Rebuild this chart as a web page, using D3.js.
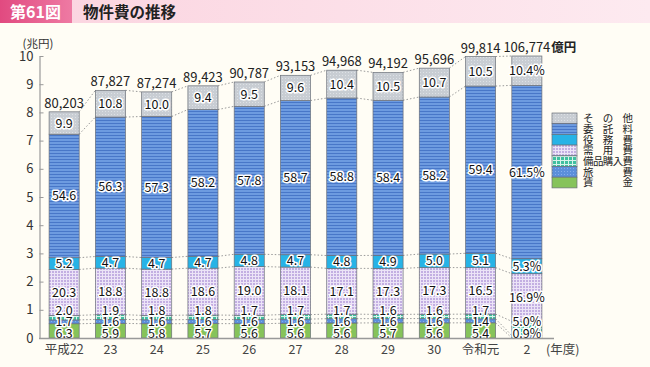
<!DOCTYPE html>
<html>
<head>
<meta charset="utf-8">
<script src="https://cdn.jsdelivr.net/npm/d3@7"></script>
<style>
  body { margin: 0; background: #fffdf5; }
  svg { display: block; font-family: "Noto Sans CJK JP", "Noto Sans", sans-serif; }
</style>
</head>
<body>
<div id="chart"></div>
<script>

// data (shares in %, totals in 億円)
var years = ["平成22", "23", "24", "25", "26", "27", "28", "29", "30", "令和元", "2"];
var totals = [80203, 87827, 87274, 89423, 90787, 93153, 94968, 94192, 95696, 99814, 106774];

var chingin  = [6.3, 5.9, 5.8, 5.7, 5.6, 5.6, 5.6, 5.7, 5.6, 5.4, 0];
var ryohi    = [1.7, 1.6, 1.6, 1.6, 1.6, 1.6, 1.6, 1.6, 1.6, 1.4, 0.9];
var bihin    = [2.0, 1.9, 1.8, 1.8, 1.7, 1.7, 1.7, 1.6, 1.6, 1.7, 5.0];
var juyo     = [20.3, 18.8, 18.8, 18.6, 19.0, 18.1, 17.1, 17.3, 17.3, 16.5, 16.9];
var ekimu    = [5.2, 4.7, 4.7, 4.7, 4.8, 4.7, 4.8, 4.9, 5.0, 5.1, 5.3];
var itaku    = [54.6, 56.3, 57.3, 58.2, 57.8, 58.7, 58.8, 58.4, 58.2, 59.4, 61.5];
var sonota   = [9.9, 10.8, 10.0, 9.4, 9.5, 9.6, 10.4, 10.5, 10.7, 10.5, 10.4];

var seriesNames = ["賃金", "旅費", "備品購入費", "需用費", "役務費", "委託料", "その他"];
var seriesValues = [chingin, ryohi, bihin, juyo, ekimu, itaku, sonota];
var yTicks = [0, 1, 2, 3, 4, 5, 6, 7, 8, 9, 10];
var pctYear = "2"; // last bar shows composition with % labels

//set the stage
var svgWidth = 650;
var svgHeight = 367;

var svg = d3.select("#chart")
  .append("svg")
  .attr("width", svgWidth)
  .attr("height", svgHeight);

svg.append("rect")
  .attr("width", svgWidth).attr("height", svgHeight)
  .attr("fill", "#fffdf5");

// patterns
var defs = svg.append("defs");

var g1 = defs.append("linearGradient").attr("id", "titleGrad");
g1.append("stop").attr("offset", "0%").attr("stop-color", "#fbd3df");
g1.append("stop").attr("offset", "100%").attr("stop-color", "#fdeaf0");

var g2 = defs.append("linearGradient").attr("id", "numGrad");
g2.append("stop").attr("offset", "0%").attr("stop-color", "#e14a80");
g2.append("stop").attr("offset", "100%").attr("stop-color", "#ee7aa3");

// 委託料: horizontal stripes
var pItaku = defs.append("pattern").attr("id", "pItaku")
  .attr("width", 4).attr("height", 3).attr("patternUnits", "userSpaceOnUse");
pItaku.append("rect").attr("width", 4).attr("height", 3).attr("fill", "#6d9be0");
pItaku.append("rect").attr("width", 4).attr("height", 1).attr("fill", "#4877c8");

// 旅費: fine dots
var pRyohi = defs.append("pattern").attr("id", "pRyohi")
  .attr("width", 3).attr("height", 3).attr("patternUnits", "userSpaceOnUse");
pRyohi.append("rect").attr("width", 3).attr("height", 3).attr("fill", "#5b8fdb");
pRyohi.append("rect").attr("width", 1).attr("height", 1).attr("fill", "#86aeea");

// 備品購入費: teal check
var pBihin = defs.append("pattern").attr("id", "pBihin")
  .attr("width", 4).attr("height", 4).attr("patternUnits", "userSpaceOnUse");
pBihin.append("rect").attr("width", 4).attr("height", 4).attr("fill", "#3fbf9f");
pBihin.append("rect").attr("width", 4).attr("height", 1).attr("fill", "#d8f3ea");
pBihin.append("rect").attr("width", 1).attr("height", 4).attr("fill", "#d8f3ea");

// 需用費: lavender check
var pJuyo = defs.append("pattern").attr("id", "pJuyo")
  .attr("width", 3).attr("height", 3).attr("patternUnits", "userSpaceOnUse");
pJuyo.append("rect").attr("width", 3).attr("height", 3).attr("fill", "#c3afe2");
pJuyo.append("rect").attr("width", 3).attr("height", 1).attr("fill", "#ece4f7");
pJuyo.append("rect").attr("width", 1).attr("height", 3).attr("fill", "#ece4f7");

// その他: light gray dots
var pSonota = defs.append("pattern").attr("id", "pSonota")
  .attr("width", 3).attr("height", 3).attr("patternUnits", "userSpaceOnUse");
pSonota.append("rect").attr("width", 3).attr("height", 3).attr("fill", "#c8cdd3");
pSonota.append("rect").attr("width", 1).attr("height", 1).attr("fill", "#dde1e5");

var fills = ["#86c35a", "url(#pRyohi)", "url(#pBihin)", "url(#pJuyo)", "#27b3e6", "url(#pItaku)", "url(#pSonota)"];

// title bar
svg.append("rect").attr("x", 0).attr("y", 0).attr("width", svgWidth).attr("height", 23)
  .attr("fill", "url(#titleGrad)");
svg.append("rect").attr("x", 0).attr("y", 0).attr("width", 72).attr("height", 23)
  .attr("fill", "url(#numGrad)");
svg.append("text").attr("x", 10).attr("y", 18)
  .attr("fill", "#fff").attr("font-size", 16).attr("font-weight", "bold")
  .text("第61図");
svg.append("text").attr("x", 83).attr("y", 18)
  .attr("fill", "#222").attr("font-size", 15.5).attr("font-weight", "bold")
  .text("物件費の推移");

// scales
var x = d3.scaleBand()
  .domain(years)
  .range([41, 550])
  .paddingInner(0.35)
  .paddingOuter(0.175);

var y = d3.scaleLinear()
  .domain([0, 10])
  .range([338, 56]);

var yMax = y.domain()[1];

// axes
var leftAxis = d3.axisLeft(y).tickValues(yTicks).tickSizeInner(-4).tickSizeOuter(0).tickPadding(6);
var yAxis = svg.append("g")
  .attr("transform", "translate(39.5,0)")
  .call(leftAxis);
yAxis.select(".domain").attr("stroke", "#999").attr("stroke-width", 1.2);
yAxis.selectAll(".tick line").attr("stroke", "#999");
yAxis.selectAll(".tick text").attr("fill", "#333").attr("font-size", 13)
  .attr("font-family", "'Noto Sans CJK JP', sans-serif");

svg.append("text").attr("x", 38).attr("y", 48).attr("text-anchor", "middle")
  .attr("font-size", 11.5).attr("fill", "#333").text("(兆円)");

// build stacks
var bars = years.map(function(yr, i) {
  var totalT = totals[i] / 10000;
  var shown = yr === pctYear ? yMax : Math.min(totalT, yMax);
  var acc = 0;
  var segs = seriesValues.map(function(vals, k) {
    var h = shown * vals[i] / 100;
    var s = { k: k, v: vals[i], y0: acc, y1: acc + h };
    acc += h;
    return s;
  });
  return { year: yr, total: totals[i], top: acc, segs: segs };
});

// dotted connectors
for (var i = 0; i < bars.length - 1; i++) {
  var a = bars[i], b = bars[i + 1];
  for (var k = 0; k < seriesNames.length; k++) {
    svg.append("line")
      .attr("x1", x(a.year) + x.bandwidth())
      .attr("x2", x(b.year))
      .attr("y1", y(a.segs[k].y1))
      .attr("y2", y(b.segs[k].y1))
      .attr("stroke", "#9a9a9a")
      .attr("stroke-width", 1)
      .attr("stroke-dasharray", "1.5,2");
  }
}

// bars
var barGroups = svg.selectAll(".bar")
  .data(bars)
  .enter()
  .append("g")
  .attr("class", "bar");

barGroups.selectAll("rect")
  .data(function(d) { return d.segs.filter(function(s) { return s.v > 0; }); })
  .enter()
  .append("rect")
  .attr("x", function(s) { return x(d3.select(this.parentNode).datum().year); })
  .attr("width", x.bandwidth())
  .attr("y", function(s) { return y(s.y1); })
  .attr("height", function(s) { return y(s.y0) - y(s.y1); })
  .attr("fill", function(s) { return fills[s.k]; })
  .attr("stroke", "#6a6f78")
  .attr("stroke-width", 0.7);

// segment labels, spread apart where they crowd
var minGap = 11.2;
bars.forEach(function(b) {
  var labs = b.segs.filter(function(s) { return s.v > 0; }).map(function(s) {
    return { s: s, py: y((s.y0 + s.y1) / 2) };
  });
  var bottom = y(0) - 5;
  for (var it = 0; it < 80; it++) {
    if (labs[0].py > bottom) labs[0].py = bottom;
    for (var j = 0; j < labs.length - 1; j++) {
      var gap = labs[j].py - labs[j + 1].py;
      if (gap < minGap) {
        var d = (minGap - gap) / 2;
        labs[j].py += d;
        labs[j + 1].py -= d;
      }
    }
  }
  if (labs[0].py > bottom) {
    var shift = labs[0].py - bottom;
    labs.forEach(function(l, j) { if (j < 3) l.py -= shift; });
  }
  var cx = x(b.year) + x.bandwidth() / 2;
  labs.forEach(function(l) {
    svg.append("text")
      .attr("x", cx)
      .attr("y", l.py)
      .attr("dy", "0.36em")
      .attr("text-anchor", "middle")
      .attr("font-size", 12.5)
      .attr("fill", "#111")
      .attr("stroke", "#fff")
      .attr("stroke-width", 3)
      .attr("stroke-linejoin", "round")
      .attr("paint-order", "stroke")
      .text(l.s.v.toFixed(1) + (b.year === pctYear ? "%" : ""));
  });

  // total label
  var tl = svg.append("text")
    .attr("x", cx)
    .attr("y", y(b.top) - 4)
    .attr("text-anchor", "middle")
    .attr("font-size", 13)
    .attr("fill", "#222")
    .text(d3.format(",")(b.total));
  if (b.year === pctYear) {
    var w = tl.node().getComputedTextLength();
    svg.append("text")
      .attr("x", cx + w / 2 + 1)
      .attr("y", y(b.top) - 4)
      .attr("font-size", 12.5)
      .attr("font-weight", "bold")
      .attr("fill", "#222")
      .text("億円");
  }
});

// x axis
svg.append("line")
  .attr("x1", 39).attr("x2", 554)
  .attr("y1", y(0) + 0.5).attr("y2", y(0) + 0.5)
  .attr("stroke", "#999").attr("stroke-width", 1.5);

svg.selectAll(".xlab")
  .data(years)
  .enter()
  .append("text")
  .attr("class", "xlab")
  .attr("x", function(d) { return x(d) + x.bandwidth() / 2; })
  .attr("y", 354)
  .attr("text-anchor", "middle")
  .attr("font-size", 12.5)
  .attr("fill", "#444")
  .text(function(d) { return d; });

svg.append("text").attr("x", 546).attr("y", 354)
  .attr("font-size", 12.5).attr("fill", "#444").text("(年度)");

// legend (top entry = その他)
var legendX = 552, legendTop = 113, rowH = 10.7;
var order = d3.range(seriesNames.length).reverse();
order.forEach(function(k, r) {
  svg.append("rect")
    .attr("x", legendX).attr("y", legendTop + r * rowH)
    .attr("width", 25).attr("height", rowH)
    .attr("fill", fills[k])
    .attr("stroke", "#6a6f78").attr("stroke-width", 0.7);
  svg.append("text")
    .attr("x", 583)
    .attr("y", legendTop + r * rowH + rowH / 2)
    .attr("dy", "0.36em")
    .attr("font-size", 10.5)
    .attr("fill", "#222")
    .attr("textLength", 50)
    .attr("lengthAdjust", "spacing")
    .text(seriesNames[k]);
});

</script>
</body>
</html>
